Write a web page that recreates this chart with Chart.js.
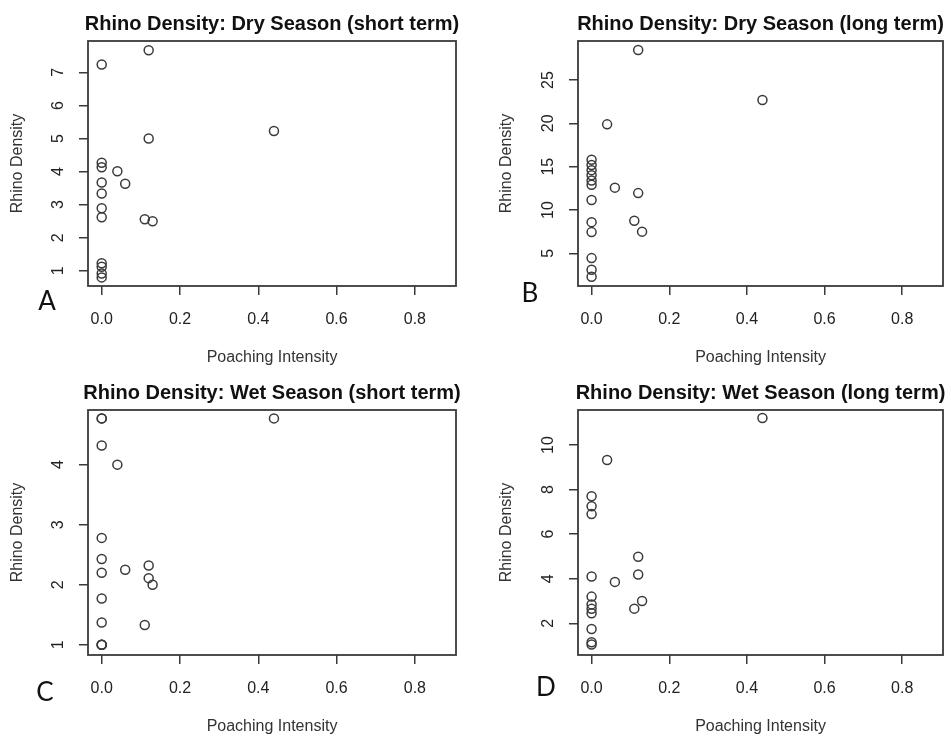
<!DOCTYPE html>
<html>
<head>
<meta charset="utf-8">
<script src="https://cdn.jsdelivr.net/npm/chart.js@4"></script>
<style>
  body { margin: 0; background: #fff; }
  #wrap { position: relative; width: 951px; height: 738px; overflow: hidden; }
  canvas { position: absolute; }
</style>
</head>
<body>
<div id="wrap">
  <canvas id="cA" width="476" height="369" style="left:0;top:0"></canvas>
  <canvas id="cB" width="475" height="369" style="left:476px;top:0"></canvas>
  <canvas id="cC" width="476" height="369" style="left:0;top:369px"></canvas>
  <canvas id="cD" width="475" height="369" style="left:476px;top:369px"></canvas>
</div>
<script>
// tick labels
var xTicks = [0, 0.2, 0.4, 0.6, 0.8];
var yTicksA = [1, 2, 3, 4, 5, 6, 7];
var yTicksB = [5, 10, 15, 20, 25];
var yTicksC = [1, 2, 3, 4];
var yTicksD = [2, 4, 6, 8, 10];

// dry season, short term
var poachA = [0, 0, 0, 0, 0, 0, 0, 0, 0, 0, 0, 0.04, 0.06, 0.11, 0.12, 0.12, 0.13, 0.44];
var densA  = [7.24, 4.27, 4.13, 3.67, 3.34, 2.89, 2.62, 1.23, 1.12, 0.92, 0.80, 4.01, 3.63, 2.56, 7.67, 5.0, 2.50, 5.23];

// dry season, long term
var poachB = [0, 0, 0, 0, 0, 0, 0, 0, 0, 0, 0, 0, 0.04, 0.06, 0.11, 0.12, 0.12, 0.13, 0.44];
var densB  = [15.8, 15.2, 14.6, 14.0, 13.4, 12.9, 11.15, 8.6, 7.45, 4.45, 3.1, 2.3, 19.88, 12.58, 8.76, 28.46, 11.95, 7.5, 22.7];

// wet season, short term
var poachC = [0, 0, 0, 0, 0, 0, 0, 0, 0, 0, 0, 0.04, 0.06, 0.11, 0.12, 0.12, 0.13, 0.44];
var densC  = [4.77, 4.77, 4.32, 2.78, 2.43, 2.2, 1.77, 1.37, 1.0, 1.0, 1.0, 4.0, 2.25, 1.33, 2.32, 2.11, 2.0, 4.77];

// wet season, long term
var poachD = [0, 0, 0, 0, 0, 0, 0, 0, 0, 0, 0, 0.04, 0.06, 0.11, 0.12, 0.12, 0.13, 0.44];
var densD  = [7.7, 7.25, 6.9, 4.1, 3.2, 2.85, 2.65, 2.45, 1.75, 1.15, 1.05, 9.33, 3.86, 2.66, 4.99, 4.19, 3.0, 11.21];

var FONT = '"Liberation Sans", Arial, Helvetica, sans-serif';

// frame, title and panel letter
var panelDeco = {
  id: 'panelDeco',
  afterDraw: function(chart, args, opts) {
    var ctx = chart.ctx, a = chart.chartArea;
    ctx.save();
    ctx.strokeStyle = '#3a3a3a';
    ctx.lineWidth = 1.8;
    ctx.strokeRect(a.left, a.top, a.right - a.left, a.bottom - a.top);
    ctx.fillStyle = '#111';
    ctx.textAlign = 'center';
    ctx.textBaseline = 'middle';
    ctx.font = 'bold 20px ' + FONT;
    ctx.fillText(opts.title, (a.left + a.right) / 2, opts.titleY);
    ctx.font = '26px Lato, "Open Sans", sans-serif';
    ctx.fillText(opts.letter, opts.lx, opts.ly);
    ctx.restore();
  }
};

function labelPad(labels) {
  var c = document.createElement('canvas').getContext('2d');
  c.font = '16px ' + FONT;
  var w = 0;
  labels.forEach(function(l) { w = Math.max(w, c.measureText(String(l)).width); });
  return 20 - w / 2;
}

function makePanel(id, xs, ys, yTicks, o) {
  var pts = xs.map(function(v, i) { return { x: v, y: ys[i] }; });
  new Chart(document.getElementById(id), {
    type: 'scatter',
    data: {
      datasets: [{
        data: pts,
        pointStyle: 'circle',
        pointRadius: 4.5,
        pointBorderWidth: 1.5,
        pointBorderColor: '#3a3a3a',
        pointBackgroundColor: 'rgba(0,0,0,0)'
      }]
    },
    plugins: [panelDeco],
    options: {
      responsive: false,
      animation: false,
      layout: { padding: { left: 0, right: o.padRight, top: 41, bottom: 0 } },
      plugins: {
        legend: { display: false },
        tooltip: { enabled: false },
        title: { display: false },
        panelDeco: { title: o.title, titleY: 24, letter: o.letter, lx: o.lx, ly: o.ly }
      },
      scales: {
        x: {
          type: 'linear',
          min: -0.035,
          max: 0.905,
          afterBuildTicks: function(s) { s.ticks = xTicks.map(function(v) { return { value: v }; }); },
          afterFit: function(s) { s.height = 83; },
          border: { display: false },
          grid: { drawOnChartArea: false, drawTicks: true, tickLength: 9, color: '#3a3a3a', lineWidth: 1.5 },
          ticks: {
            autoSkip: false, maxRotation: 0, padding: 14.5, color: '#222',
            font: { family: FONT, size: 16 },
            callback: function(v) { return v.toFixed(1); }
          },
          title: {
            display: true, text: 'Poaching Intensity', color: '#333',
            font: { family: FONT, size: 16 }, padding: { top: 0, bottom: 1.5 }
          }
        },
        y: {
          type: 'linear',
          min: o.yMin,
          max: o.yMax,
          afterBuildTicks: function(s) { s.ticks = yTicks.map(function(v) { return { value: v }; }); },
          afterFit: function(s) { s.width = o.yWidth; },
          border: { display: false },
          grid: { drawOnChartArea: false, drawTicks: true, tickLength: 9, color: '#3a3a3a', lineWidth: 1.5 },
          ticks: {
            autoSkip: false, minRotation: 90, maxRotation: 90, crossAlign: 'center',
            padding: labelPad(yTicks), color: '#222',
            font: { family: FONT, size: 16 },
            callback: function(v) { return String(v); }
          },
          title: {
            display: true, text: 'Rhino Density', color: '#333',
            font: { family: FONT, size: 16 }, padding: { top: o.yTitlePad, bottom: 0 }
          }
        }
      }
    }
  });
}

makePanel('cA', poachA, densA, yTicksA, {
  title: 'Rhino Density: Dry Season (short term)', letter: 'A', lx: 47, ly: 302,
  yMin: 0.54, yMax: 7.95, yWidth: 88, padRight: 20, yTitlePad: 8
});
makePanel('cB', poachB, densB, yTicksB, {
  title: 'Rhino Density: Dry Season (long term)', letter: 'B', lx: 54, ly: 294,
  yMin: 1.23, yMax: 29.5, yWidth: 102, padRight: 8, yTitlePad: 20.5
});
makePanel('cC', poachC, densC, yTicksC, {
  title: 'Rhino Density: Wet Season (short term)', letter: 'C', lx: 45, ly: 324,
  yMin: 0.83, yMax: 4.91, yWidth: 88, padRight: 20, yTitlePad: 8
});
makePanel('cD', poachD, densD, yTicksD, {
  title: 'Rhino Density: Wet Season (long term)', letter: 'D', lx: 70, ly: 319,
  yMin: 0.58, yMax: 11.57, yWidth: 102, padRight: 8, yTitlePad: 20.5
});
</script>
</body>
</html>
